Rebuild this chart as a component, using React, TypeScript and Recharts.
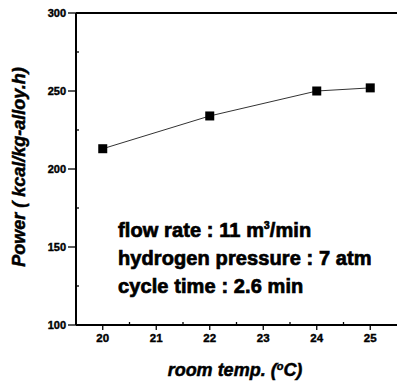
import React from 'react';
import { LineChart, Line, XAxis, YAxis, ReferenceLine } from 'recharts';

const temps = [20, 22, 24, 25];
const power = [213, 234, 250, 252];
const xTicks = [20, 20.5, 21, 21.5, 22, 22.5, 23, 23.5, 24, 24.5, 25];
const yTicks = [100, 125, 150, 175, 200, 225, 250, 275, 300];
const annotations = ['flow rate : 11 m', 'hydrogen pressure : 7 atm', 'cycle time : 2.6 min'];

const data = temps.map((t, i) => ({ t, p: power[i] }));

const FONT = '"Liberation Sans", Arial, Helvetica, sans-serif';

const XTick = (props: any) => {
  const { x, y, payload } = props;
  const v = payload.value as number;
  const major = Number.isInteger(v);
  return (
    <g>
      <line x1={x} x2={x} y1={y} y2={major ? y + 5 : y - 3} stroke="#000" strokeWidth={1.3} />
      {major && (
        <text x={x} y={y + 17} textAnchor="middle" fontSize={11.5} fontWeight="bold" fontFamily={FONT} fill="#000" stroke="#000" strokeWidth={0.4}>
          {v}
        </text>
      )}
    </g>
  );
};

const YTick = (props: any) => {
  const { x, y, payload } = props;
  const v = payload.value as number;
  const major = v % 50 === 0;
  return (
    <g>
      <line x1={x} x2={major ? x - 8 : x + 3} y1={y} y2={y} stroke="#000" strokeWidth={1.3} />
      {major && (
        <text x={x - 10} y={y + 4} textAnchor="end" fontSize={11} fontWeight="bold" fontFamily={FONT} fill="#000" stroke="#000" strokeWidth={0.4}>
          {v}
        </text>
      )}
    </g>
  );
};

const Square = (props: any) => {
  const { cx, cy, index } = props;
  return <rect key={'d' + index} x={cx - 4.5} y={cy - 4.5} width={9} height={9} fill="#000" />;
};

export default function App() {
  const big = { fontSize: 20, fontWeight: 'bold' as const, fontFamily: FONT, fill: '#000', stroke: '#000', strokeWidth: 0.7, letterSpacing: 0.1 };
  return (
    <div style={{ position: 'absolute', left: 0, top: 0, width: 397, height: 383, background: '#fff' }}>
      <LineChart width={397} height={383} data={data} margin={{ top: 13, right: 0, bottom: 0, left: 0 }}>
        <XAxis
          dataKey="t"
          type="number"
          domain={[19.5, 25.5]}
          ticks={xTicks}
          interval={0}
          height={58}
          tickSize={0}
          tickMargin={0}
          tickLine={false}
          tick={<XTick />}
          axisLine={{ stroke: '#000', strokeWidth: 2 }}
        />
        <YAxis
          type="number"
          domain={[100, 300]}
          ticks={yTicks}
          interval={0}
          width={76}
          tickSize={0}
          tickMargin={0}
          tickLine={false}
          tick={<YTick />}
          axisLine={{ stroke: '#000', strokeWidth: 2 }}
        />
        <ReferenceLine y={300} stroke="#000" strokeWidth={2} />
        <Line
          dataKey="p"
          stroke="#333"
          strokeWidth={1}
          dot={<Square />}
          isAnimationActive={false}
        />
      </LineChart>
      <svg width={397} height={383} style={{ position: 'absolute', left: 0, top: 0, pointerEvents: 'none' }}>
        <text
          x={19}
          y={167}
          transform="rotate(-90, 19, 167)"
          textAnchor="middle"
          dominantBaseline="central"
          fontSize={18}
          fontWeight="bold"
          fontStyle="italic"
          fontFamily={FONT}
          fill="#000"
          stroke="#000"
          strokeWidth={0.5}
        >
          Power ( kcal/kg-alloy.h)
        </text>
        <text x={235} y={376} textAnchor="middle" fontSize={18} fontWeight="bold" fontStyle="italic" fontFamily={FONT} fill="#000" stroke="#000" strokeWidth={0.5}>
          room temp. (<tspan dy={-6} fontSize={11}>o</tspan><tspan dy={6}>C)</tspan>
        </text>
        <text x={118} y={237} {...big}>
          {annotations[0]}
          <tspan dy={-8} fontSize={10}>3</tspan>
          <tspan dy={8}>/min</tspan>
        </text>
        <text x={118} y={265} {...big}>
          {annotations[1]}
        </text>
        <text x={118} y={293} {...big}>
          {annotations[2]}
        </text>
      </svg>
    </div>
  );
}
